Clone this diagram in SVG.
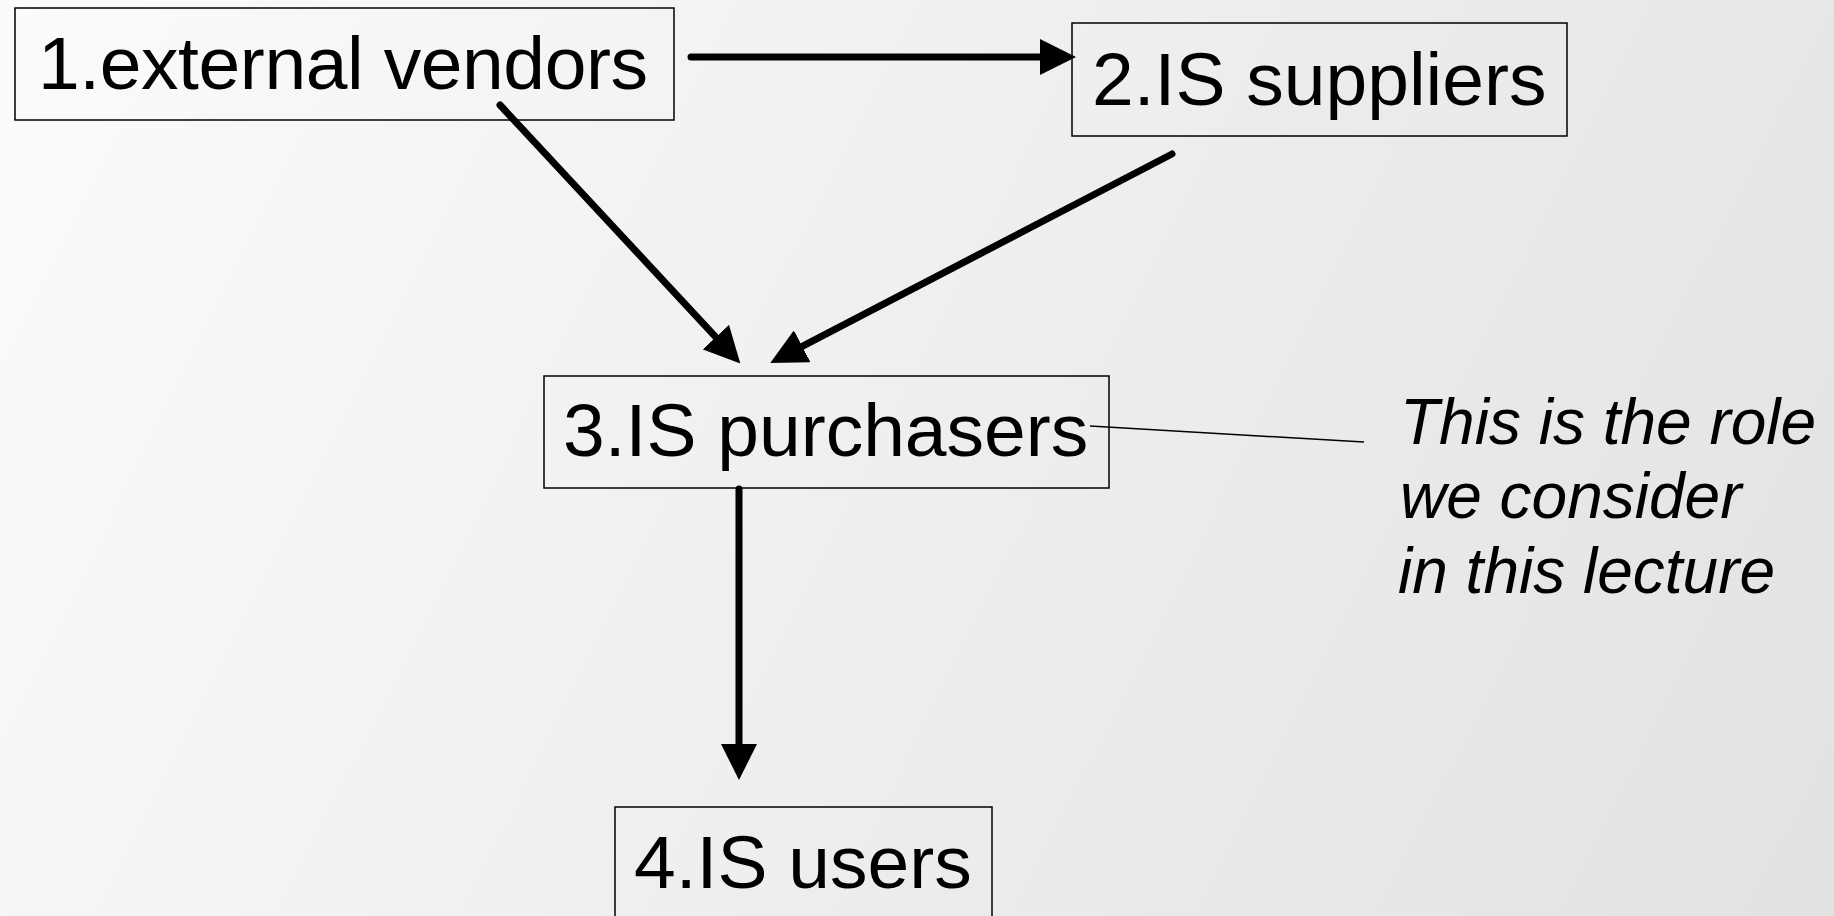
<svg xmlns="http://www.w3.org/2000/svg" width="1834" height="916" viewBox="0 0 1834 916">
  <defs>
    <linearGradient id="bg" x1="0" y1="0" x2="1834" y2="916" gradientUnits="userSpaceOnUse">
      <stop offset="0" stop-color="#fbfbfb"/>
      <stop offset="1" stop-color="#e2e2e2"/>
    </linearGradient>
    <marker id="head" markerUnits="userSpaceOnUse" markerWidth="36" markerHeight="36" viewBox="0 0 34 34" refX="0" refY="17" orient="auto">
      <path d="M0,0 L34,17 L0,34 Z" fill="#000"/>
    </marker>
    <style>
      .box { fill: none; stroke: #000; stroke-width: 1.5; }
      .label { font-family: "Liberation Sans", Arial, sans-serif; font-size: 75px; fill: #000; }
      .note { font-family: "Liberation Sans", Arial, sans-serif; font-size: 64px; font-style: italic; fill: #000; }
      .flow { fill: none; stroke: #000; stroke-width: 7; stroke-linecap: round; marker-end: url(#head); }
      .callout { fill: none; stroke: #000; stroke-width: 1.5; }
    </style>
  </defs>

  <rect x="0" y="0" width="1834" height="916" fill="url(#bg)"/>

  <g id="connectors">
    <path class="flow" d="M691,57 L1040,57"/>
    <path class="flow" d="M500,105 L715.8,337.1"/>
    <path class="flow" d="M1172,154 L802.2,346.3"/>
    <path class="flow" d="M739,489 L739,744"/>
    <path class="callout" d="M1090,426 L1364,442"/>
  </g>

  <g id="node-external-vendors">
    <rect class="box" x="15" y="8" width="659" height="112"/>
    <text class="label" x="38" y="89" textLength="610">1.external vendors</text>
  </g>

  <g id="node-is-suppliers">
    <rect class="box" x="1072" y="23" width="495" height="113"/>
    <text class="label" x="1092" y="105">2.IS suppliers</text>
  </g>

  <g id="node-is-purchasers">
    <rect class="box" x="544" y="376" width="565" height="112"/>
    <text class="label" x="563" y="456">3.IS purchasers</text>
  </g>

  <g id="node-is-users">
    <rect class="box" x="615" y="807" width="377" height="112"/>
    <text class="label" x="634" y="888">4.IS users</text>
  </g>

  <g id="note">
    <text class="note" x="1400" y="444">This is the role</text>
    <text class="note" x="1400" y="518">we consider</text>
    <text class="note" x="1398" y="593">in this lecture</text>
  </g>
</svg>
